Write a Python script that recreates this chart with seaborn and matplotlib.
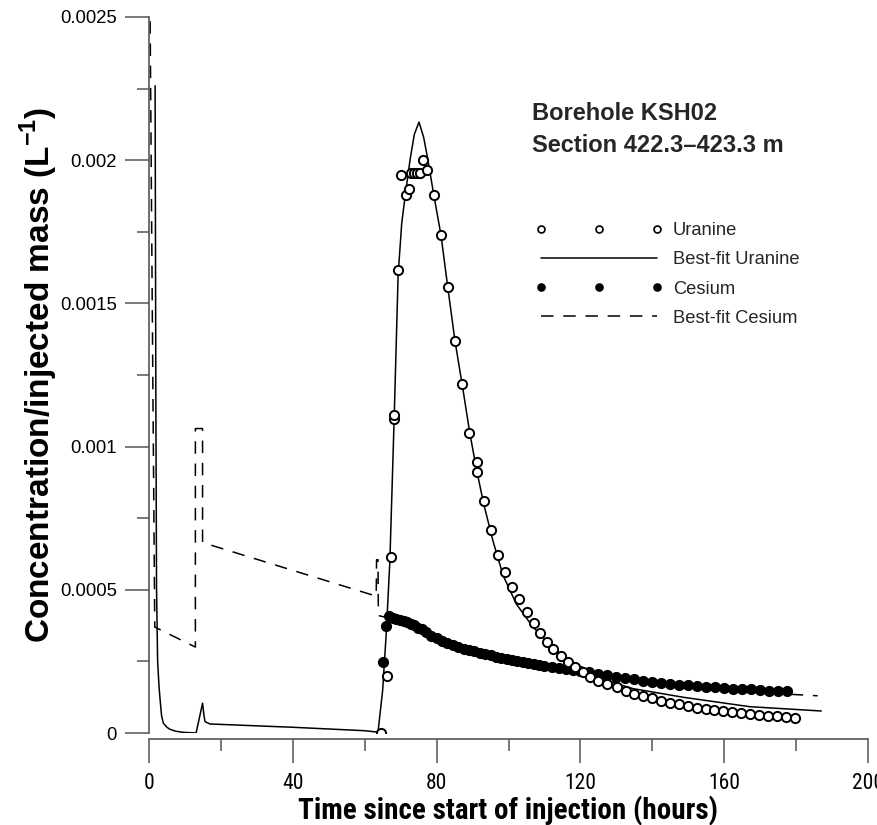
import matplotlib
matplotlib.use("Agg")
import matplotlib.pyplot as plt
from matplotlib.lines import Line2D
from matplotlib import font_manager
import numpy as np
import pandas as pd
import seaborn as sns

# ---------------- data ----------------
uranine_t = [64.5, 66.2, 67.3, 68.1, 68.2, 69.3, 70.2, 71.4, 72.3, 73.0, 73.8, 74.5, 75.3,
             76.3, 77.2, 79.2, 81.2, 83.1, 85.1, 87.2, 89.0, 91.1, 91.1, 93.1, 95.1, 97.1,
             99.0, 101.1, 103.0, 105.1, 107.1, 108.9, 110.6, 112.5, 114.5, 116.6, 118.6,
             120.6, 122.6, 124.8, 127.3, 130.1, 132.6, 134.8, 137.3, 139.8, 142.3, 144.8,
             147.3, 149.8, 152.3, 154.8, 157.1, 159.6, 162.1, 164.6, 167.1, 169.6, 172.1,
             174.6, 177.1, 179.6]
uranine_c = [0.0, 0.000199, 0.000614, 0.001098, 0.001110, 0.001618, 0.001948, 0.001877,
             0.001898, 0.001957, 0.001957, 0.001957, 0.001957, 0.002000, 0.001967, 0.001877,
             0.001738, 0.001557, 0.001369, 0.001217, 0.001048, 0.000947, 0.000912, 0.000811,
             0.000708, 0.000623, 0.000563, 0.000511, 0.000468, 0.000423, 0.000385, 0.000350,
             0.000318, 0.000293, 0.000269, 0.000248, 0.000230, 0.000213, 0.000195, 0.000181,
             0.000171, 0.000160, 0.000147, 0.000136, 0.000129, 0.000122, 0.000112, 0.000105,
             0.000101, 0.0000942, 0.0000872, 0.0000837, 0.0000802, 0.0000768, 0.0000733,
             0.0000698, 0.0000663, 0.0000628, 0.0000593, 0.0000593, 0.0000558, 0.0000523]

cesium_t = [65.0, 65.8, 66.8, 67.8, 68.8, 69.8, 70.8, 71.8, 72.8, 73.8, 74.8, 75.8, 77.0,
            78.5, 80.0, 81.5, 83.0, 84.5, 86.0, 87.5, 89.0, 90.5, 92.0, 93.5, 95.0, 96.5,
            98.0, 99.5, 101.0, 102.5, 104.0, 105.5, 107.0, 108.5, 110.0, 112.0, 114.0, 116.0,
            118.0, 120.0, 122.5, 125.0, 127.5, 130.0, 132.5, 135.0, 137.5, 140.0, 142.5,
            145.0, 147.5, 150.0, 152.5, 155.0, 157.5, 160.0, 162.5, 165.0, 167.5, 170.0,
            172.5, 175.0, 177.5]
cesium_c = [0.000249, 0.000373, 0.000408, 0.000402, 0.000397, 0.000394, 0.000390, 0.000386,
            0.000382, 0.000377, 0.000368, 0.000362, 0.000352, 0.000340, 0.000330, 0.000322,
            0.000314, 0.000307, 0.000301, 0.000295, 0.000290, 0.000285, 0.000280, 0.000275,
            0.000271, 0.000267, 0.000263, 0.000259, 0.000255, 0.000251, 0.000247, 0.000244,
            0.000241, 0.000238, 0.000235, 0.000231, 0.000227, 0.000224, 0.000221, 0.000218,
            0.000212, 0.000206, 0.000201, 0.000196, 0.000192, 0.000187, 0.000183, 0.000179,
            0.000176, 0.000172, 0.000169, 0.000166, 0.000164, 0.000162, 0.000159, 0.000157,
            0.000155, 0.000154, 0.000152, 0.000150, 0.000148, 0.000147, 0.000145]

fit_uranine_t = [1.7, 1.9, 2.1, 2.4, 2.8, 3.1, 3.5, 4.0, 5.0, 5.8, 7.5, 9.5, 11.5, 13.1,
                 14.9, 15.3, 15.6, 17.0, 20.0, 30.0, 40.0, 50.0, 60.0, 63.7, 65.0, 66.0,
                 67.0, 68.2, 69.3, 70.3, 71.3, 72.6, 73.8, 75.1, 76.4, 77.6, 79.2, 81.2,
                 83.1, 85.1, 87.2, 89.2, 91.1, 93.1, 95.7, 98.5, 102.2, 106.8, 111.5, 115.0,
                 120.0, 128.0, 134.6, 148.5, 167.0, 187.0]
fit_uranine_c = [0.00226, 0.0012, 0.0005, 0.00025, 0.00016, 0.000115, 0.00006, 0.000034,
                 0.00002, 0.000013, 0.000006, 0.0000024, 0.000001, 0.0, 0.000104, 0.00006,
                 0.0000395, 0.0000314, 0.00003, 0.000025, 0.00002, 0.000014, 0.000008,
                 0.000003, 0.00015, 0.00035, 0.0006, 0.00110, 0.00160, 0.00178, 0.00188,
                 0.00200, 0.00209, 0.002133, 0.00208, 0.00200, 0.00188, 0.00174, 0.001557,
                 0.00137, 0.00121, 0.00105, 0.00092, 0.00080, 0.00067, 0.00055, 0.00045,
                 0.00037, 0.00031, 0.00027, 0.000228, 0.000180, 0.000155, 0.000125,
                 0.000092, 0.0000768]

fit_cesium_t = [0.25, 0.9, 1.6, 12.9, 12.9, 14.9, 14.9, 62.4, 63.2, 63.3, 63.7, 63.8, 65.5,
                67.0, 70.0, 75.0, 80.0, 85.0, 90.0, 95.0, 100.0, 110.0, 120.0, 130.0, 140.0,
                150.0, 160.0, 170.0, 180.0, 186.0]
fit_cesium_c = [0.0026, 0.0015, 0.00037, 0.0003, 0.001063, 0.001063, 0.000665, 0.000481,
                0.000478, 0.000605, 0.000605, 0.00041, 0.000405, 0.000402, 0.000392,
                0.000368, 0.00033, 0.000305, 0.000287, 0.000271, 0.000257, 0.000235,
                0.000215, 0.000195, 0.000176, 0.000161, 0.000150, 0.000141, 0.000134,
                0.00013]

x_ticks = [0, 40, 80, 120, 160, 200]
x_tick_labels = ["0", "40", "80", "120", "160", "200"]
y_ticks = [0, 0.0005, 0.001, 0.0015, 0.002, 0.0025]
y_tick_labels = ["0", "0.0005", "0.001", "0.0015", "0.002", "0.0025"]
series_labels = ["Uranine", "Best-fit Uranine", "Cesium", "Best-fit Cesium"]
title_lines = ["Borehole KSH02", "Section 422.3\u2013423.3 m"]
x_label = "Time since start of injection (hours)"
y_label = "Concentration/injected mass (L$^{\\mathbf{-1}}$)"

# ---------------- style ----------------
sns.set_theme(style="white")
plt.rcParams["font.family"] = ["Liberation Sans", "DejaVu Sans"]
plt.rcParams["lines.scale_dashes"] = False
plt.rcParams["mathtext.fontset"] = "custom"
plt.rcParams["mathtext.rm"] = "Liberation Sans"
plt.rcParams["mathtext.bf"] = "Liberation Sans:bold"

avail = {f.name for f in font_manager.fontManager.ttflist}
if "Liberation Sans Narrow" in avail:
    narrow, xt_size, xl_size = "Liberation Sans Narrow", 15.5, 21
elif "Roboto Condensed" in avail:
    narrow, xt_size, xl_size = "Roboto Condensed", 15.5, 21
else:
    narrow, xt_size, xl_size = "Liberation Sans", 12.5, 17.8

W, H = 877, 825
fig = plt.figure(figsize=(W / 100, H / 100), dpi=100)
ax = fig.add_axes([149 / W, 1 - 733 / H, (868 - 149) / W, (733 - 17) / H])

DASH = (0, (9.0, 7.0))
axis_grey = "#555555"

df_u = pd.DataFrame({"t": uranine_t, "c": uranine_c})
df_cs = pd.DataFrame({"t": cesium_t, "c": cesium_c})
df_fu = pd.DataFrame({"t": fit_uranine_t, "c": fit_uranine_c})
df_fc = pd.DataFrame({"t": fit_cesium_t, "c": fit_cesium_c})

sns.lineplot(data=df_fc, x="t", y="c", sort=False, estimator=None, color="black",
             lw=1.1, linestyle=DASH, ax=ax, zorder=2)
sns.lineplot(data=df_fu, x="t", y="c", sort=False, estimator=None, color="black",
             lw=1.1, ax=ax, zorder=2)
sns.scatterplot(data=df_cs, x="t", y="c", marker="o", s=44, color="black",
                edgecolor="black", linewidth=1.4, ax=ax, zorder=3)
sns.scatterplot(data=df_u, x="t", y="c", marker="o", s=44, facecolor="white",
                edgecolor="black", linewidth=1.4, ax=ax, zorder=4)

ax.set_xlim(0, 200)
ax.set_ylim(0, 0.0025)

for side in ("top", "right"):
    ax.spines[side].set_visible(False)
for side in ("left", "bottom"):
    ax.spines[side].set_color(axis_grey)
    ax.spines[side].set_linewidth(1.2)
ax.spines["bottom"].set_position(("outward", 4))

ax.tick_params(axis="both", which="major", direction="out", length=17, width=1.1,
               color=axis_grey, bottom=True, left=True)
ax.tick_params(axis="both", which="minor", direction="out", length=8.5, width=1.1,
               color=axis_grey, bottom=True, left=True)
ax.tick_params(axis="x", which="major", pad=8)
ax.tick_params(axis="y", which="major", pad=6)

ax.set_xticks(x_ticks)
ax.set_xticklabels(x_tick_labels, family=narrow, fontsize=xt_size, color="black")
ax.set_xticks([20, 60, 100, 140, 180], minor=True)
ax.set_yticks(y_ticks)
ax.set_yticklabels(y_tick_labels, fontsize=13.3, color="black")
ax.set_yticks([0.00025, 0.00075, 0.00125, 0.00175, 0.00225], minor=True)

ax.set_xlabel(x_label, family=narrow, fontweight="bold", fontsize=xl_size, labelpad=1,
              color="black")
ax.set_ylabel(y_label, fontweight="bold", fontsize=24, labelpad=0, color="black")
ax.grid(False)

# title block
fig.text(532 / W, 1 - 120 / H, title_lines[0], fontsize=17, fontweight="bold",
         va="baseline", ha="left")
fig.text(532 / W, 1 - 152.5 / H, title_lines[1], fontsize=17, fontweight="bold",
         va="baseline", ha="left")

# legend
handles = [
    Line2D([], [], ls="none", marker="o", ms=5.0, mfc="white", mec="black", mew=1.2),
    Line2D([], [], color="black", lw=1.1),
    Line2D([], [], ls="none", marker="o", ms=5.0, mfc="black", mec="black", mew=1.2),
    Line2D([], [], color="black", lw=1.1, ls=DASH),
]
leg = ax.legend(handles, series_labels, loc="upper left",
                bbox_to_anchor=(535 / W, 1 - 222 / H), bbox_transform=fig.transFigure,
                frameon=False, numpoints=3, fontsize=13.2, handlelength=6.94,
                handletextpad=0.58, labelspacing=0.67, borderpad=0, borderaxespad=0)

fig.savefig("out.png", dpi=100)
